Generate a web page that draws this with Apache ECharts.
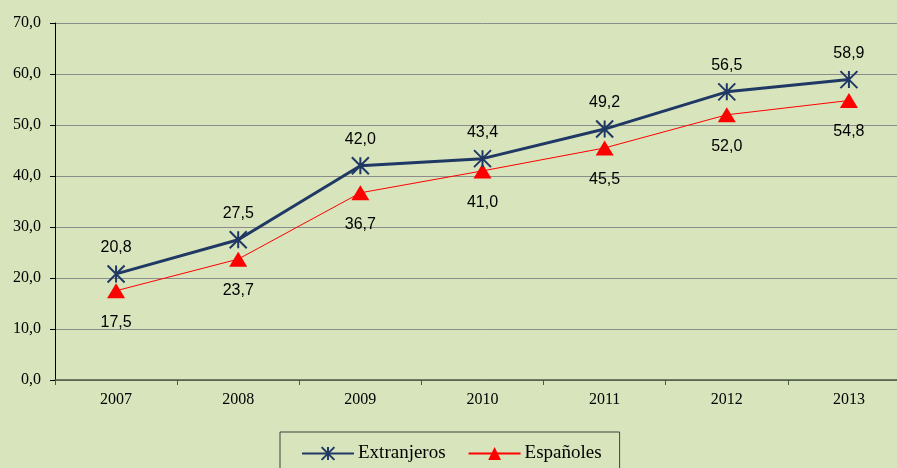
<!DOCTYPE html>
<html>
<head>
<meta charset="utf-8">
<script src="https://cdn.jsdelivr.net/npm/echarts@6/dist/echarts.min.js"></script>
<style>
    html, body { margin: 0; padding: 0; background: #d8e4bc; overflow: hidden; }
    #chart { width: 914px; height: 468px; }
</style>
</head>
<body>
<div id="chart"></div>
<script>
var years = ['2007', '2008', '2009', '2010', '2011', '2012', '2013'];
var extranjeros = [20.8, 27.5, 42.0, 43.4, 49.2, 56.5, 58.9];
var espanoles = [17.5, 23.7, 36.7, 41.0, 45.5, 52.0, 54.8];

// asterisco como en Excel
var starPath = 'path://M0,0L10,10M10,0L0,10M5,0L5,10';

function coma(v) {
    return v.toFixed(1).replace('.', ',');
}

var myChart = echarts.init(document.getElementById('chart'));

// el área del gráfico sigue más allá del borde derecho (se recorta)
var option = {
    backgroundColor: '#d8e4bc',
    animation: false,
    grid: {
        left: 55,
        top: 23,
        right: 4,
        bottom: 88
    },
    legend: {
        left: 280,
        top: 432,
        padding: [12, 18, 20, 21],
        borderColor: '#404040',
        borderWidth: 1,
        itemWidth: 52,
        itemHeight: 16,
        itemGap: 22,
        textStyle: {
            fontFamily: 'Liberation Serif',
            fontSize: 19,
            color: '#000',
            padding: [0, 0, 0, -1]
        },
        data: ['Extranjeros', 'Españoles']
    },
    xAxis: {
        type: 'category',
        data: years,
        boundaryGap: true,
        axisLine: { lineStyle: { color: '#4a5a40', width: 1.5 } },
        axisTick: { show: true, length: 5, lineStyle: { color: '#4a5a40' } },
        axisLabel: {
            fontFamily: 'Liberation Serif',
            fontSize: 16,
            color: '#000',
            margin: 12
        }
    },
    yAxis: {
        type: 'value',
        min: 0,
        max: 70,
        interval: 10,
        axisLine: { show: true, lineStyle: { color: '#000', width: 1 } },
        axisTick: { show: true, length: 5, lineStyle: { color: '#000' } },
        splitLine: { lineStyle: { color: '#8c8c8c', width: 1 } },
        axisLabel: {
            fontFamily: 'Liberation Serif',
            fontSize: 16,
            color: '#000',
            margin: 14,
            formatter: function (v) { return coma(v); }
        }
    },
    series: [{
        name: 'Extranjeros',
        type: 'line',
        data: extranjeros,
        symbol: starPath,
        symbolSize: 17,
        lineStyle: { color: '#1f3864', width: 3 },
        itemStyle: { color: '#1f3864', borderColor: '#1f3864', borderWidth: 2 },
        label: {
            show: true,
            position: 'top',
            distance: 9,
            fontFamily: 'Liberation Sans',
            fontSize: 16,
            color: '#000',
            formatter: function (p) { return coma(p.value); }
        },
        z: 3
    }, {
        name: 'Españoles',
        type: 'line',
        data: espanoles,
        symbol: 'triangle',
        symbolSize: [18, 15],
        lineStyle: { color: '#ff0000', width: 1 },
        itemStyle: { color: '#ff0000' },
        label: {
            show: true,
            position: 'bottom',
            distance: 16,
            fontFamily: 'Liberation Sans',
            fontSize: 16,
            color: '#000',
            formatter: function (p) { return coma(p.value); }
        },
        z: 2
    }]
};

myChart.setOption(option);
</script>
</body>
</html>
